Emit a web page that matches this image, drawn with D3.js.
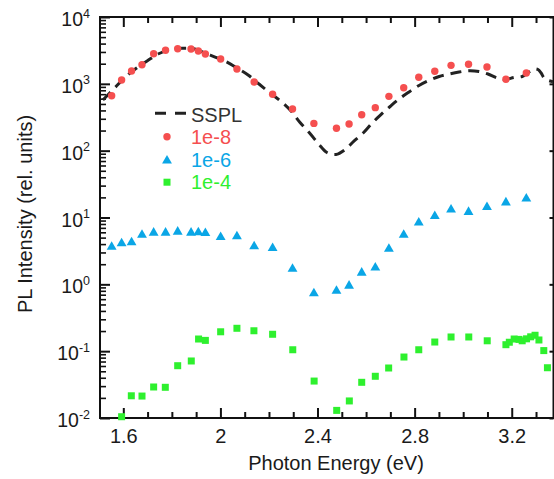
<!DOCTYPE html>
<html>
<head>
<meta charset="utf-8">
<script src="https://cdn.jsdelivr.net/npm/d3@7"></script>
<style>
  body { margin: 0; background: #fff; }
  svg { display: block; }
  text { font-family: "Liberation Sans", Arial, Helvetica, sans-serif; fill: #1a1a1a; }
</style>
</head>
<body>
<svg id="chart" width="554" height="479"></svg>
<script>
// Photon energies (eV) of the measured spectra at 1e-8 and 1e-6
const energy = [1.552, 1.593, 1.634, 1.677, 1.725, 1.774, 1.824, 1.879, 1.909, 1.938,
                2.001, 2.068, 2.139, 2.215, 2.297, 2.385, 2.478, 2.530, 2.582, 2.638,
                2.694, 2.755, 2.817, 2.883, 2.950, 3.022, 3.098, 3.176, 3.260];
const pl1e8 = [664, 1141, 1556, 1933, 2825, 3175, 3357, 3321, 3100, 2793,
               2353, 1668, 1064, 697, 420, 256, 216, 251, 345, 440,
               650, 875, 1253, 1540, 1892, 1961, 1786, 1170, 1452];
const pl1e6 = [3.74, 4.2, 4.35, 5.66, 6.07, 6.07, 6.28, 6.07, 6.13, 6.0,
               5.23, 5.35, 3.79, 3.58, 1.75, 0.75, 0.822, 0.977, 1.53, 1.82,
               3.49, 5.66, 8.57, 10.8, 13.5, 12.4, 14.7, 17.2, 19.6];
// Photon energies (eV) of the 1e-4 spectrum
const energy1e4 = [1.593, 1.633, 1.677, 1.725, 1.773, 1.824, 1.880, 1.910, 1.938, 2.001,
                   2.068, 2.138, 2.215, 2.298, 2.386, 2.479, 2.531, 2.582, 2.638, 2.693,
                   2.756, 2.817, 2.883, 2.950, 3.023, 3.099, 3.176, 3.190, 3.210, 3.230,
                   3.243, 3.261, 3.278, 3.296, 3.312, 3.332, 3.347];
const pl1e4 = [0.01045, 0.0215, 0.0213, 0.0291, 0.0288, 0.0606, 0.0713, 0.152, 0.145, 0.195,
               0.220, 0.202, 0.179, 0.105, 0.0357, 0.0130, 0.0180, 0.0342, 0.0421, 0.056,
               0.0817, 0.105, 0.137, 0.163, 0.163, 0.143, 0.125, 0.136, 0.152, 0.150,
               0.143, 0.153, 0.164, 0.173, 0.147, 0.102, 0.0565];
// Steady-state PL reference spectrum
const ssplEnergy = [1.516, 1.566, 1.611, 1.652, 1.698, 1.743, 1.792, 1.842, 1.891, 1.937,
                    1.978, 2.023, 2.068, 2.114, 2.159, 2.205, 2.250, 2.291, 2.328, 2.369,
                    2.406, 2.439, 2.476, 2.514, 2.551, 2.588, 2.625, 2.662, 2.699, 2.736,
                    2.777, 2.818, 2.859, 2.901, 2.942, 2.983, 3.024, 3.065, 3.102, 3.140,
                    3.172, 3.210, 3.243, 3.268, 3.292, 3.308, 3.321, 3.337, 3.370];
const ssplValue = [573, 881, 1288, 1694, 2196, 2794, 3206, 3402, 3344, 2891,
                   2518, 2157, 1726, 1356, 994, 729, 544, 392, 264, 181,
                   124, 93.8, 87.6, 104, 140, 184, 259, 348, 458, 593,
                   755, 945, 1122, 1288, 1403, 1503, 1572, 1530, 1403, 1222,
                   1161, 1245, 1288, 1479, 1668, 1638, 1452, 1181, 1077];

const xMajorTicks = [1.6, 2.0, 2.4, 2.8, 3.2];
const xTickLabels = ["1.6", "2", "2.4", "2.8", "3.2"];
const xMinorTicks = [1.7, 1.8, 1.9, 2.1, 2.2, 2.3, 2.5, 2.6, 2.7, 2.9, 3.0, 3.1, 3.3];
const yExponents = [-2, -1, 0, 1, 2, 3, 4];
const legendLabels = ["SSPL", "1e-8", "1e-6", "1e-4"];

const colors = { sspl: "#222222", r: "#f54f4f", b: "#0aa6e6", g: "#2ef02e" };

const svg = d3.select("#chart");
const L = 100, R = 553.5, T = 17, B = 418;

const x = d3.scaleLinear().domain([1.504, 3.372]).range([L, R]);
const y = d3.scaleLog().domain([1e-2, 1e4]).range([B, T]);

const yMajor = yExponents.map(e => Math.pow(10, e));
const yMinor = [];
yExponents.slice(0, -1).forEach(e => {
  for (let k = 2; k <= 9; k++) yMinor.push(k * Math.pow(10, e));
});

function styleAxis(g, w) {
  g.select(".domain").remove();
  g.selectAll(".tick line").attr("stroke", "#111").attr("stroke-width", w);
}

// bottom axis
svg.append("g").attr("transform", `translate(0,${B})`)
  .call(d3.axisBottom(x).tickValues(xMajorTicks).tickSizeInner(-10).tickSizeOuter(0)
        .tickPadding(10.5).tickFormat((d, i) => xTickLabels[i]))
  .call(g => styleAxis(g, 2))
  .call(g => g.selectAll("text").attr("font-size", 20).attr("fill", "#1a1a1a")
        .style("font-family", '"Liberation Sans", Arial, sans-serif'));
svg.append("g").attr("transform", `translate(0,${B})`)
  .call(d3.axisBottom(x).tickValues(xMinorTicks).tickSizeInner(-6).tickSizeOuter(0).tickFormat(""))
  .call(g => styleAxis(g, 2));

// top axis
svg.append("g").attr("transform", `translate(0,${T})`)
  .call(d3.axisTop(x).tickValues(xMajorTicks).tickSizeInner(-10).tickSizeOuter(0).tickFormat(""))
  .call(g => styleAxis(g, 2));
svg.append("g").attr("transform", `translate(0,${T})`)
  .call(d3.axisTop(x).tickValues(xMinorTicks).tickSizeInner(-6).tickSizeOuter(0).tickFormat(""))
  .call(g => styleAxis(g, 2));

// left axis
svg.append("g").attr("transform", `translate(${L},0)`)
  .call(d3.axisLeft(y).tickValues(yMajor).tickSizeInner(-10).tickSizeOuter(0).tickFormat(""))
  .call(g => styleAxis(g, 2));
svg.append("g").attr("transform", `translate(${L},0)`)
  .call(d3.axisLeft(y).tickValues(yMinor).tickSizeInner(-6).tickSizeOuter(0).tickFormat(""))
  .call(g => styleAxis(g, 1.6));

// right axis
svg.append("g").attr("transform", `translate(${R},0)`)
  .call(d3.axisRight(y).tickValues(yMajor).tickSizeInner(-4).tickSizeOuter(0).tickFormat(""))
  .call(g => styleAxis(g, 2));

// power-of-ten labels
const yLab = svg.append("g").selectAll("text").data(yExponents).join("text")
  .attr("x", 90).attr("y", d => y(Math.pow(10, d)) + 9)
  .attr("text-anchor", "end").attr("font-size", 19.5);
yLab.append("tspan").text("10");
yLab.append("tspan").attr("dy", -8.5).attr("font-size", 12.5).text(d => d);

// frame
svg.append("rect").attr("x", L).attr("y", T).attr("width", R - L).attr("height", B - T)
  .attr("fill", "none").attr("stroke", "#111").attr("stroke-width", 2);

// clip for the reference curve
svg.append("clipPath").attr("id", "plotArea")
  .append("rect").attr("x", L).attr("y", T).attr("width", R - L).attr("height", B - T);

// SSPL dashed curve
const line = d3.line().x(d => x(d[0])).y(d => y(d[1])).curve(d3.curveCatmullRom.alpha(0.5));
svg.append("path")
  .datum(ssplEnergy.map((e, i) => [e, ssplValue[i]]))
  .attr("clip-path", "url(#plotArea)")
  .attr("d", line)
  .attr("fill", "none").attr("stroke", colors.sspl).attr("stroke-width", 3)
  .attr("stroke-dasharray", "11,7");

// 1e-8 circles
svg.append("g").selectAll("circle").data(energy.map((e, i) => [e, pl1e8[i]])).join("circle")
  .attr("cx", d => x(d[0])).attr("cy", d => y(d[1])).attr("r", 3.7).attr("fill", colors.r);

// 1e-6 triangles
const tri = d3.symbol().type(d3.symbolTriangle).size(42);
svg.append("g").selectAll("path").data(energy.map((e, i) => [e, pl1e6[i]])).join("path")
  .attr("transform", d => `translate(${x(d[0])},${y(d[1]) + 0.8})`)
  .attr("d", tri).attr("fill", colors.b);

// 1e-4 squares
const sq = 7;
svg.append("g").selectAll("rect").data(energy1e4.map((e, i) => [e, pl1e4[i]])).join("rect")
  .attr("x", d => x(d[0]) - sq / 2).attr("y", d => y(d[1]) - sq / 2)
  .attr("width", sq).attr("height", sq).attr("fill", colors.g);

// legend
const lg = svg.append("g");
const lgX = 191, lgY0 = 121.7, lgDy = 22.5, mk = 167;
lg.append("line").attr("x1", 155).attr("x2", 186).attr("y1", lgY0 - 8.4).attr("y2", lgY0 - 8.4)
  .attr("stroke", colors.sspl).attr("stroke-width", 3).attr("stroke-dasharray", "11,9");
lg.append("circle").attr("cx", mk).attr("cy", lgY0 + lgDy - 7.5).attr("r", 3.7).attr("fill", colors.r);
lg.append("path").attr("transform", `translate(${mk},${lgY0 + 2 * lgDy - 6})`)
  .attr("d", tri).attr("fill", colors.b);
lg.append("rect").attr("x", mk - sq / 2).attr("y", lgY0 + 3 * lgDy - 7 - sq / 2)
  .attr("width", sq).attr("height", sq).attr("fill", colors.g);
const lgColors = ["#333333", colors.r, colors.b, colors.g];
lg.selectAll("text").data(legendLabels).join("text")
  .attr("x", lgX).attr("y", (d, i) => lgY0 + i * lgDy)
  .attr("font-size", 20).style("fill", (d, i) => lgColors[i]).text(d => d);

// axis titles
svg.append("text").attr("x", 336).attr("y", 470).attr("text-anchor", "middle")
  .attr("font-size", 20).text("Photon Energy (eV)");
svg.append("text").attr("transform", "translate(32,214) rotate(-90)")
  .attr("text-anchor", "middle").attr("font-size", 20).text("PL Intensity (rel. units)");
</script>
</body>
</html>
